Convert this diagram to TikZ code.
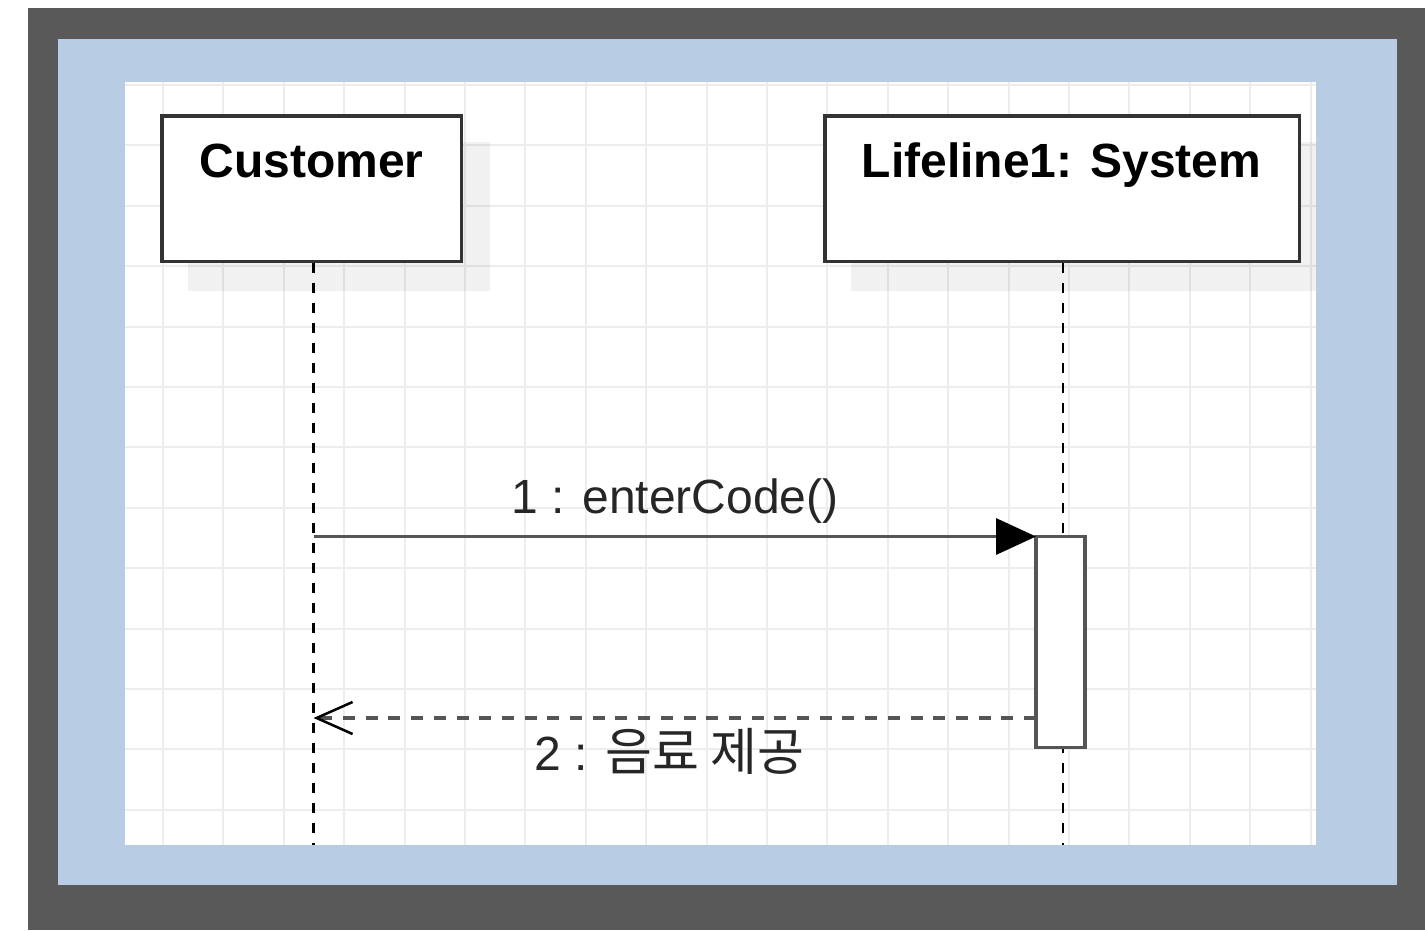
\documentclass[tikz,border=0pt]{standalone}
\usepackage{fontspec}
\setmainfont{Liberation Sans}
\newfontfamily\krfont{Noto Sans CJK KR}
\usetikzlibrary{arrows.meta}
\definecolor{outerc}{HTML}{595959}
\definecolor{bluec}{HTML}{B8CCE4}
\definecolor{gridc}{HTML}{EDEDED}
\definecolor{boxc}{HTML}{333333}
\definecolor{msgc}{HTML}{555555}
\tikzset{
  lifebox/.style={draw=boxc, line width=3.5pt, fill=white, anchor=north west, inner sep=0pt},
  boxtext/.style={font=\fontsize{48}{56}\selectfont\bfseries, anchor=base, inner sep=0pt},
  msgtext/.style={font=\fontsize{48}{56}\selectfont, anchor=base, inner sep=0pt, text=black!85},
  lifeline/.style={draw=black, line width=2.8pt, dash pattern=on 10pt off 10pt},
  actbox/.style={draw=msgc, line width=3.5pt, fill=white, inner sep=0pt, outer sep=0pt, minimum width=49pt, minimum height=211pt},
  callmsg/.style={draw=msgc, line width=3.5pt, -{Triangle[length=40pt, width=36pt, black]}},
  retmsg/.style={draw=msgc, line width=3.5pt, dash pattern=on 12pt off 10.7pt,
     -{Straight Barb[length=36pt, width=32pt, black, line width=2.5pt]}},
}
\begin{document}
\begin{tikzpicture}[x=1pt,y=-1pt]
\useasboundingbox (0,0) rectangle (1425,930);
\fill[white] (0,0) rectangle (1425,930);
\fill[outerc] (28,8) rectangle (1425,930);
\fill[bluec] (58,39) rectangle (1397,885);
\fill[white] (125,82) rectangle (1316,845);
\begin{scope}
  \clip (125,82) rectangle (1316,845);
  \foreach \i in {0,...,19} \draw[gridc, line width=2pt] ({163+60.4*\i},82) -- ({163+60.4*\i},845);
  \foreach \j in {0,...,12} \draw[gridc, line width=2pt] (125,{85+60.4*\j}) -- (1316,{85+60.4*\j});
  \fill[black, opacity=0.055] (188,142) rectangle (490,291);
  \fill[black, opacity=0.055] (851,142) rectangle (1328,291);
\end{scope}
% lifeline boxes
\node[lifebox, minimum width=299.5pt, minimum height=145.5pt] (cust) at (160,114) {};
\node[lifebox, minimum width=474.5pt, minimum height=145.5pt] (sys) at (823,114) {};
\node[boxtext] (custtxt) at (311.5,177) {Customer};
\node[boxtext] (systxt) at (1061.5,177) {Lifeline1: System};
% lifelines
\coordinate (custend) at (313.5,845);
\coordinate (sysend) at (1063,845);
\draw[lifeline] (cust.south -| custend) -- (custend);
\draw[lifeline] (sys.south -| sysend) -- (sysend);
% activation
\node[actbox] (act) at (1060.5,642) {};
% messages
\coordinate (m1s) at (custend |- act.north);
\draw[callmsg] (m1s) -- (act.north west);
\node[msgtext] (l1) at (675,513) {1 : enterCode()};
\coordinate (m2s) at (act.west |- 0,718);
\coordinate (m2e) at (custend |- m2s);
\draw[retmsg] (m2s) -- (m2e);
\node[msgtext] (l2) at (669.5,770) {2 : {\krfont\fontsize{51}{56}\selectfont 음료 제공}};
\end{tikzpicture}
\end{document}
